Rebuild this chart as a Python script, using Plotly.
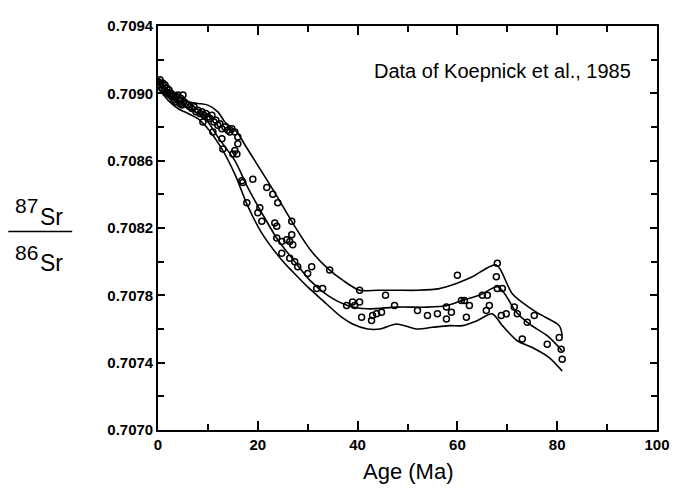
import plotly.graph_objects as go

# envelope curves (age in Ma, 87Sr/86Sr)
upper_age = [0, 2, 4, 6, 8, 10, 12, 13.4, 15.8, 17.5, 19.4, 23.4, 27.4, 30.8, 34, 37, 40.4,
             44, 48, 52, 56.4, 59.8, 63, 67.8, 71, 75.8, 80.4, 81]
upper_sr = [0.70909, 0.70902, 0.70898, 0.70895, 0.70894, 0.70893, 0.70889, 0.70883, 0.70877,
            0.70869, 0.70860, 0.70841, 0.70821, 0.70806, 0.70796, 0.70789, 0.70783,
            0.70783, 0.70783, 0.70783, 0.70784, 0.70787, 0.70791, 0.70798, 0.70781,
            0.70770, 0.70762, 0.70756]

middle_age = [0, 2, 4, 6, 8, 10, 12, 15.4, 18, 20.8, 24, 27.4, 30.4, 34, 38, 42, 48, 54, 58,
              61, 64.4, 68.2, 71.8, 74.4, 78, 81]
middle_sr = [0.70906, 0.70899, 0.70894, 0.70891, 0.70888, 0.70883, 0.70874, 0.70860, 0.70844,
             0.70829, 0.70813, 0.70800, 0.70789, 0.70780, 0.70774, 0.70772, 0.70773, 0.70773,
             0.70774, 0.70777, 0.70780, 0.70785, 0.70770, 0.70763, 0.70756, 0.70747]

lower_age = [0, 2, 4, 6, 8, 10, 12.8, 15.4, 18, 20.8, 24.8, 27, 30, 33, 36.4, 39, 42, 44.5,
             47.8, 51.8, 55, 58.4, 61, 64, 67, 69, 72, 75, 78.4, 81]
lower_sr = [0.70903, 0.70896, 0.70891, 0.70888, 0.70885, 0.70879, 0.70867, 0.70852, 0.70833,
            0.70817, 0.70801, 0.70794, 0.70785, 0.70777, 0.70768, 0.70763, 0.70760, 0.70760,
            0.70763, 0.70760, 0.70761, 0.70762, 0.70762, 0.70765, 0.70769, 0.70762, 0.70753,
            0.70749, 0.70743, 0.70735]

# individual samples
pt_age = [0, 0.2, 0.4, 0.6, 0.8, 1.0, 1.2, 1.4, 1.6, 1.8, 2.0, 2.2, 2.4, 2.6, 2.8, 3.0, 3.2,
          3.4, 3.6, 3.8, 4.0, 4.2, 4.4, 4.6, 4.8, 5.0, 5.2, 5.6, 6.0, 6.4, 6.8, 7.2, 7.6, 8.0,
          8.4, 8.8, 9.0, 9.2, 9.6, 10.0, 10.4, 10.8, 11.0, 11.2, 11.6, 12.0, 12.4, 12.8, 12.8,
          13.0, 13.4, 14.0, 14.4, 14.8, 15.0, 15.4, 15.4, 15.8, 16.0, 16.0, 16.8, 17.0, 17.8,
          19.0, 20.0, 20.4, 20.8, 21.8, 23.0, 23.4, 23.8, 23.8, 24.0, 24.8, 24.8, 25.8, 26.4,
          26.4, 26.8, 26.8, 27.0, 27.4, 28.0, 30.0, 30.8, 31.8, 33.0, 34.4, 37.8, 39.0, 39.4,
          40.4, 40.4, 40.8, 42.8, 43.0, 43.8, 44.8, 45.6, 47.4, 52.0, 54.0, 56.0, 57.8, 57.8,
          58.8, 60.0, 60.8, 61.4, 61.8, 62.4, 65.0, 66.0, 65.8, 66.4, 67.8, 68.0, 68.0, 68.8,
          69.0, 69.8, 71.4, 72.0, 73.0, 74.0, 75.4, 78.0, 80.4, 80.8, 81.0]
pt_sr = [0.70907, 0.70905, 0.70908, 0.70906, 0.70903, 0.70906, 0.70902, 0.70905, 0.70901,
         0.70903, 0.70900, 0.70902, 0.70899, 0.70900, 0.70898, 0.70899, 0.70896, 0.70898,
         0.70895, 0.70898, 0.70899, 0.70896, 0.70894, 0.70897, 0.70893, 0.70899, 0.70895,
         0.70894, 0.70893, 0.70892, 0.70891, 0.70892, 0.70889, 0.70890, 0.70888, 0.70889,
         0.70883, 0.70887, 0.70888, 0.70886, 0.70885, 0.70887, 0.70877, 0.70883, 0.70884,
         0.70881, 0.70882, 0.70879, 0.70873, 0.70867, 0.70880, 0.70878, 0.70877, 0.70879,
         0.70864, 0.70877, 0.70866, 0.70864, 0.70874, 0.70870, 0.70848, 0.70847, 0.70835,
         0.70849, 0.70829, 0.70832, 0.70824, 0.70844, 0.70840, 0.70823, 0.70821, 0.70814,
         0.70835, 0.70812, 0.70805, 0.70813, 0.70812, 0.70802, 0.70824, 0.70816, 0.70810,
         0.70800, 0.70797, 0.70793, 0.70797, 0.70784, 0.70784, 0.70795, 0.70774, 0.70776,
         0.70774, 0.70783, 0.70776, 0.70767, 0.70765, 0.70768, 0.70769, 0.70770, 0.70780,
         0.70774, 0.70771, 0.70768, 0.70769, 0.70766, 0.70773, 0.70770, 0.70792, 0.70777,
         0.70777, 0.70767, 0.70774, 0.70780, 0.70780, 0.70771, 0.70774, 0.70791, 0.70799,
         0.70784, 0.70768, 0.70784, 0.70769, 0.70773, 0.70769, 0.70754, 0.70764, 0.70768,
         0.70751, 0.70755, 0.70748, 0.70742]

x_ticks = [0, 20, 40, 60, 80, 100]
y_ticks = [0.7070, 0.7074, 0.7078, 0.7082, 0.7086, 0.7090, 0.7094]

fig = go.Figure()

for xs, ys in [(upper_age, upper_sr), (middle_age, middle_sr), (lower_age, lower_sr)]:
    fig.add_trace(go.Scatter(x=xs, y=ys, mode="lines",
                             line=dict(color="black", width=1.6, shape="spline", smoothing=0.8),
                             hoverinfo="skip"))

fig.add_trace(go.Scatter(x=pt_age, y=pt_sr, mode="markers",
                         marker=dict(symbol="circle-open", size=6, color="black",
                                     line=dict(color="black", width=1.5))))

tick_font = dict(family="Liberation Sans, Arial, sans-serif", size=15, color="black", weight="bold")
axis_common = dict(showgrid=False, zeroline=False, showline=True, linecolor="black",
                   linewidth=1.6, mirror="ticks", ticks="inside", tickcolor="black",
                   tickwidth=1.5, tickfont=tick_font)

fig.update_xaxes(range=[0, 100], tickvals=x_ticks, ticklen=9,
                 minor=dict(dtick=10, ticks="inside", ticklen=6, tickcolor="black", tickwidth=1.5),
                 **axis_common)
fig.update_yaxes(range=[0.7070, 0.7094], tickvals=y_ticks, tickformat=".4f", ticklen=7,
                 minor=dict(dtick=0.0002, ticks="inside", ticklen=6, tickcolor="black", tickwidth=1.5),
                 **axis_common)

label_font = dict(family="Liberation Sans, Arial, sans-serif", color="black")
annotations = [
    dict(text="Data of Koepnick et al., 1985", x=0.952, y=0.889, xanchor="right", yanchor="middle",
         font=dict(size=20, **label_font)),
    dict(text="Age (Ma)", x=0.5, y=-0.066, xanchor="center", yanchor="top",
         font=dict(size=22, **label_font)),
    dict(text="87", x=-0.290, y=0.555, xanchor="left", yanchor="middle", font=dict(size=21, **label_font)),
    dict(text="Sr", x=-0.240, y=0.528, xanchor="left", yanchor="middle", font=dict(size=23, **label_font)),
    dict(text="86", x=-0.290, y=0.440, xanchor="left", yanchor="middle", font=dict(size=21, **label_font)),
    dict(text="Sr", x=-0.240, y=0.413, xanchor="left", yanchor="middle", font=dict(size=23, **label_font)),
]
for a in annotations:
    fig.add_annotation(xref="paper", yref="paper", showarrow=False, **a)

# fraction bar of the y label
fig.add_shape(type="line", xref="paper", yref="paper", x0=-0.300, x1=-0.172, y0=0.4915, y1=0.4915,
              line=dict(color="black", width=1.5))

# page body keeps an 8px margin, so the figure is a bit smaller than the window
fig.update_layout(width=672, height=480, margin=dict(l=150, r=23, t=9, b=58),
                  plot_bgcolor="white", paper_bgcolor="white", showlegend=False)

fig.write_html("out.html")
